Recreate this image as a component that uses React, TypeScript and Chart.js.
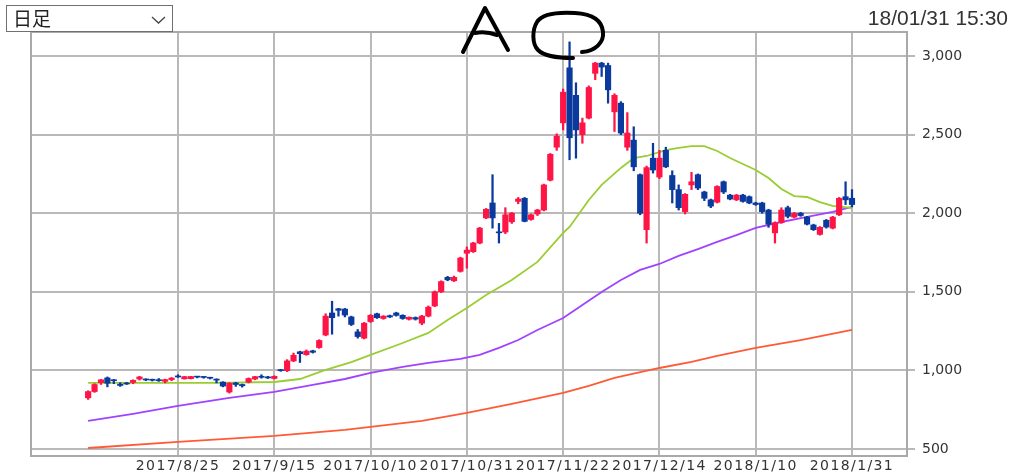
import React, { useEffect, useRef } from 'react';
import { Chart, registerables, LinearScale } from 'chart.js';

Chart.register(...registerables);

// Linear scale whose tick labels are drawn with a little letter spacing
class SpacedLinearScale extends LinearScale {
  static id = 'spacedLinear';
  static defaults = LinearScale.defaults;
  drawLabels(chartArea: any) {
    const ctx: any = (this as any).ctx;
    ctx.save();
    ctx.letterSpacing = '1.4px';
    // @ts-ignore
    super.drawLabels(chartArea);
    ctx.restore();
  }
}
Chart.register(SpacedLinearScale as any);

// ---- data (daily candles, index 0 = 2017/8/4 ... 119 = 2018/1/31) ----
const opens = [
  825, 865, 922, 952, 939, 912, 918, 924, 945, 942,
  940, 938, 930, 941, 962, 946, 947, 960, 958, 953,
  941, 925, 862, 920, 910, 925, 945, 962, 958, 948,
  1003, 998, 1060, 1118, 1100, 1124, 1145, 1225, 1365, 1392,
  1390, 1340, 1245, 1205, 1310, 1360, 1330, 1348, 1365, 1350,
  1325, 1336, 1300, 1345, 1410, 1500, 1592, 1570, 1630, 1745,
  1755, 1810, 1970, 2065, 1880, 1880, 1945, 2075, 2095, 1960,
  1995, 2020, 2210, 2420, 2575, 2925, 2750, 2500, 2605, 2890,
  2955, 2940, 2645, 2700, 2420, 2465, 2245, 1895, 2350, 2230,
  2400, 2240, 2150, 2010, 2180, 2245, 2135, 2085, 2070, 2200,
  2115, 2085, 2115, 2105, 2065, 2065, 2020, 1875, 1940, 2035,
  1975, 2000, 1975, 1925, 1865, 1955, 1905, 1990, 2105, 2095,
];
const highs = [
  870, 915, 942, 958, 942, 922, 924, 940, 962, 946,
  944, 948, 944, 954, 972, 962, 962, 962, 960, 956,
  946, 928, 922, 924, 913, 952, 962, 972, 962, 965,
  1006, 1068, 1110, 1122, 1130, 1128, 1195, 1360, 1440, 1395,
  1394, 1345, 1260, 1305, 1355, 1364, 1348, 1352, 1370, 1354,
  1340, 1340, 1350, 1410, 1505, 1570, 1598, 1600, 1720, 1785,
  1815, 1910, 2030, 2245, 1935, 2035, 2005, 2100, 2100, 1995,
  2025, 2185, 2380, 2505, 2790, 3090, 2830, 2605, 2810, 2960,
  2960, 2955, 2760, 2710, 2640, 2550, 2250, 2300, 2445, 2400,
  2420, 2270, 2180, 2125, 2260, 2250, 2140, 2090, 2175, 2205,
  2120, 2120, 2120, 2110, 2070, 2070, 2025, 1945, 2035, 2045,
  2005, 2005, 1980, 1930, 1915, 1960, 1980, 2100, 2200, 2150,
];
const lows = [
  815, 860, 910, 895, 915, 898, 910, 915, 938, 934,
  932, 930, 920, 934, 955, 944, 945, 952, 950, 945,
  920, 895, 855, 898, 893, 920, 940, 950, 948, 945,
  994, 992, 1055, 1050, 1096, 1110, 1140, 1220, 1230, 1345,
  1340, 1285, 1205, 1200, 1305, 1330, 1325, 1336, 1345, 1325,
  1320, 1320, 1290, 1340, 1405, 1495, 1570, 1565, 1625, 1650,
  1750, 1805, 1965, 1905, 1810, 1870, 1935, 2060, 1945, 1955,
  1985, 2015, 2205, 2400, 2530, 2340, 2350, 2445, 2600, 2850,
  2870, 2700, 2520, 2500, 2400, 2270, 1990, 1810, 2255, 2220,
  2290, 2065, 2020, 1995, 2150, 2150, 2080, 2035, 2065, 2125,
  2085, 2080, 2070, 2060, 2050, 2000, 1910, 1810, 1935, 1970,
  1970, 1980, 1925, 1890, 1860, 1905, 1900, 1985, 2055, 2040,
];
const closes = [
  865, 910, 940, 918, 934, 904, 913, 936, 958, 939,
  937, 934, 941, 951, 958, 960, 961, 957, 955, 950,
  938, 900, 918, 910, 902, 948, 960, 956, 952, 962,
  998, 1060, 1096, 1106, 1122, 1115, 1190, 1345, 1335, 1382,
  1352, 1292, 1215, 1300, 1350, 1335, 1345, 1340, 1350, 1330,
  1338, 1326, 1345, 1402, 1500, 1565, 1576, 1592, 1715, 1765,
  1810, 1905, 2025, 1970, 1875, 1990, 2000, 2090, 1948, 1990,
  2020, 2180, 2375, 2490, 2770, 2480, 2530, 2575, 2800, 2955,
  2930, 2785, 2750, 2510, 2510, 2295, 2000, 2290, 2275, 2350,
  2295, 2150, 2035, 2120, 2200, 2160, 2095, 2045, 2170, 2135,
  2090, 2115, 2075, 2065, 2055, 2010, 1930, 1940, 2020, 1980,
  2000, 1985, 1930, 1895, 1910, 1912, 1975, 2095, 2085, 2055,
];

// moving averages: [day index, value]
const ma25 = [
  [0, 920], [10, 920], [20, 920], [29, 926], [33, 945], [37, 1003], [41, 1053],
  [44, 1098], [49, 1174], [53, 1238], [56, 1321], [59, 1397], [62, 1480],
  [66, 1575], [70, 1690], [74, 1874], [75, 1912], [78, 2084], [80, 2180],
  [83, 2288], [85, 2351], [87, 2364], [89, 2389], [90, 2402], [92, 2415],
  [94, 2427], [96, 2427], [98, 2396], [100, 2351], [102, 2313], [104, 2275],
  [106, 2224], [108, 2154], [110, 2109], [112, 2103], [114, 2071], [116, 2046],
  [119, 2033],
];
const ma75 = [
  [0, 678], [7, 723], [14, 774], [22, 825], [29, 863], [35, 907], [40, 945],
  [44, 984], [49, 1022], [53, 1047], [58, 1073], [61, 1098], [64, 1143],
  [67, 1193], [70, 1257], [74, 1333], [77, 1416], [80, 1499], [83, 1575],
  [86, 1639], [89, 1677], [92, 1728], [95, 1772], [98, 1817], [101, 1861],
  [104, 1906], [108, 1944], [112, 1976], [116, 2008], [119, 2040],
];
const ma200 = [
  [0, 506], [14, 545], [29, 583], [40, 621], [44, 640], [52, 678], [59, 729],
  [66, 786], [74, 856], [78, 901], [82, 952], [89, 1015], [94, 1054],
  [98, 1092], [104, 1143], [111, 1193], [119, 1257],
];

const xTickIdx = [14, 29, 44, 59, 74, 89, 104, 119];
const xTickLabels = [
  '2017/8/25', '2017/9/15', '2017/10/10', '2017/10/31',
  '2017/11/22', '2017/12/14', '2018/1/10', '2018/1/31',
];
const yTicks = [500, 1000, 1500, 2000, 2500, 3000];

const RED = '#ff1446';
const BLUE = '#0b3a9e';
const GREEN = '#9acd32';
const PURPLE = '#a043ff';
const ORANGE = '#ff5a36';
const GRID = '#b9b9b9';
const FRAME = '#a9a9a9';
const TEXT = '#333333';

const framePlugin = {
  id: 'frame',
  beforeDatasetsDraw(chart: any) {
    const { ctx, chartArea: a } = chart;
    ctx.save();
    ctx.strokeStyle = FRAME;
    ctx.lineWidth = 2;
    ctx.strokeRect(a.left, a.top, a.right - a.left, a.bottom - a.top);
    ctx.restore();
  },
};

export default function App() {
  const ref = useRef<HTMLCanvasElement>(null);

  useEffect(() => {
    const idx = opens.map((_, i) => i);
    const colors = idx.map((i) => (closes[i] >= opens[i] ? RED : BLUE));
    const tickFont = { family: '"DejaVu Sans", sans-serif', size: 14 };

    const chart = new Chart(ref.current as HTMLCanvasElement, {
      type: 'bar',
      data: {
        datasets: [
          {
            type: 'bar',
            label: 'body',
            data: idx.map((i) => ({ x: i, y: [opens[i], closes[i]] })) as any,
            backgroundColor: colors,
            borderWidth: 0,
            barThickness: 5.5,
            minBarLength: 1,
            grouped: false,
            order: 1,
          } as any,
          {
            type: 'bar',
            label: 'wick',
            data: idx.map((i) => ({ x: i, y: [lows[i], highs[i]] })) as any,
            backgroundColor: colors,
            borderWidth: 0,
            barThickness: 1.6,
            grouped: false,
            order: 2,
          } as any,
          {
            type: 'line',
            label: 'MA25',
            data: ma25.map(([x, y]) => ({ x, y })) as any,
            borderColor: GREEN,
            borderWidth: 1.8,
            pointRadius: 0,
            tension: 0,
            order: 3,
          } as any,
          {
            type: 'line',
            label: 'MA75',
            data: ma75.map(([x, y]) => ({ x, y })) as any,
            borderColor: PURPLE,
            borderWidth: 1.8,
            pointRadius: 0,
            tension: 0,
            order: 4,
          } as any,
          {
            type: 'line',
            label: 'MA200',
            data: ma200.map(([x, y]) => ({ x, y })) as any,
            borderColor: ORANGE,
            borderWidth: 1.8,
            pointRadius: 0,
            tension: 0,
            order: 5,
          } as any,
        ],
      },
      options: {
        animation: false,
        responsive: false,
        events: [],
        layout: { padding: { left: 31, top: 32, right: 0, bottom: 0 } },
        plugins: { legend: { display: false }, tooltip: { enabled: false } },
        scales: {
          x: {
            type: 'spacedLinear' as any,
            min: -8.9,
            max: 127.57,
            offset: false,
            afterBuildTicks: (s: any) => {
              s.ticks = xTickIdx.map((v) => ({ value: v }));
            },
            afterFit: (s: any) => {
              s.height = 19;
            },
            grid: { color: GRID, lineWidth: 2, drawTicks: false, offset: false },
            border: { display: false },
            ticks: {
              autoSkip: false,
              maxRotation: 0,
              padding: 2,
              color: TEXT,
              font: tickFont,
              callback: (_v: any, i: number) => xTickLabels[i] ?? '',
            },
          } as any,
          y: {
            type: 'linear',
            position: 'right',
            min: 455,
            max: 3153,
            afterBuildTicks: (s: any) => {
              s.ticks = yTicks.map((v) => ({ value: v }));
            },
            afterFit: (s: any) => {
              s.width = 117;
            },
            grid: { color: GRID, lineWidth: 2, tickLength: 8 },
            border: { display: false },
            ticks: {
              padding: 7,
              color: TEXT,
              font: tickFont,
              callback: (v: any) => Number(v).toLocaleString('en-US'),
            },
          },
        },
      },
      plugins: [framePlugin],
    } as any);
    return () => chart.destroy();
  }, []);

  return (
    <div
      style={{
        position: 'fixed',
        left: 0,
        top: 0,
        width: 1024,
        height: 475,
        background: '#ffffff',
        overflow: 'hidden',
      }}
    >
      <canvas ref={ref} width={1024} height={475} style={{ position: 'absolute', left: 0, top: 0 }} />
      <div
        style={{
          position: 'absolute',
          left: 6,
          top: 5,
          width: 167,
          height: 27,
          boxSizing: 'border-box',
          border: '1.5px solid #707070',
          background: '#ffffff',
          fontFamily: '"Noto Sans CJK JP", sans-serif',
          fontSize: 19,
          lineHeight: '24px',
          color: '#222',
          paddingLeft: 6,
        }}
      >
        日足
      </div>
      <div
        style={{
          position: 'absolute',
          right: 16,
          top: 7,
          fontFamily: '"Liberation Sans", Arial, sans-serif',
          fontSize: 21,
          lineHeight: '21px',
          color: TEXT,
          whiteSpace: 'nowrap',
        }}
      >
        18/01/31 15:30
      </div>
      <svg
        width={1024}
        height={70}
        style={{ position: 'absolute', left: 0, top: 0, pointerEvents: 'none' }}
      >
        <polyline points="152,17 158.5,23 165,17" fill="none" stroke="#444" strokeWidth={1.3} />
        <g fill="none" stroke="#000" strokeWidth={4} strokeLinecap="round" strokeLinejoin="round">
          <path d="M463,52 L485,8 L508,50" />
          <path d="M475,33 Q486,31 497,35" />
          <path d="M582,52 C596,51 604,42 603,32 C602,20 592,14 575,13 C558,12 542,14 537,22 C532,30 532,44 538,50 C545,57 560,58 573,58" />
        </g>
      </svg>
    </div>
  );
}
